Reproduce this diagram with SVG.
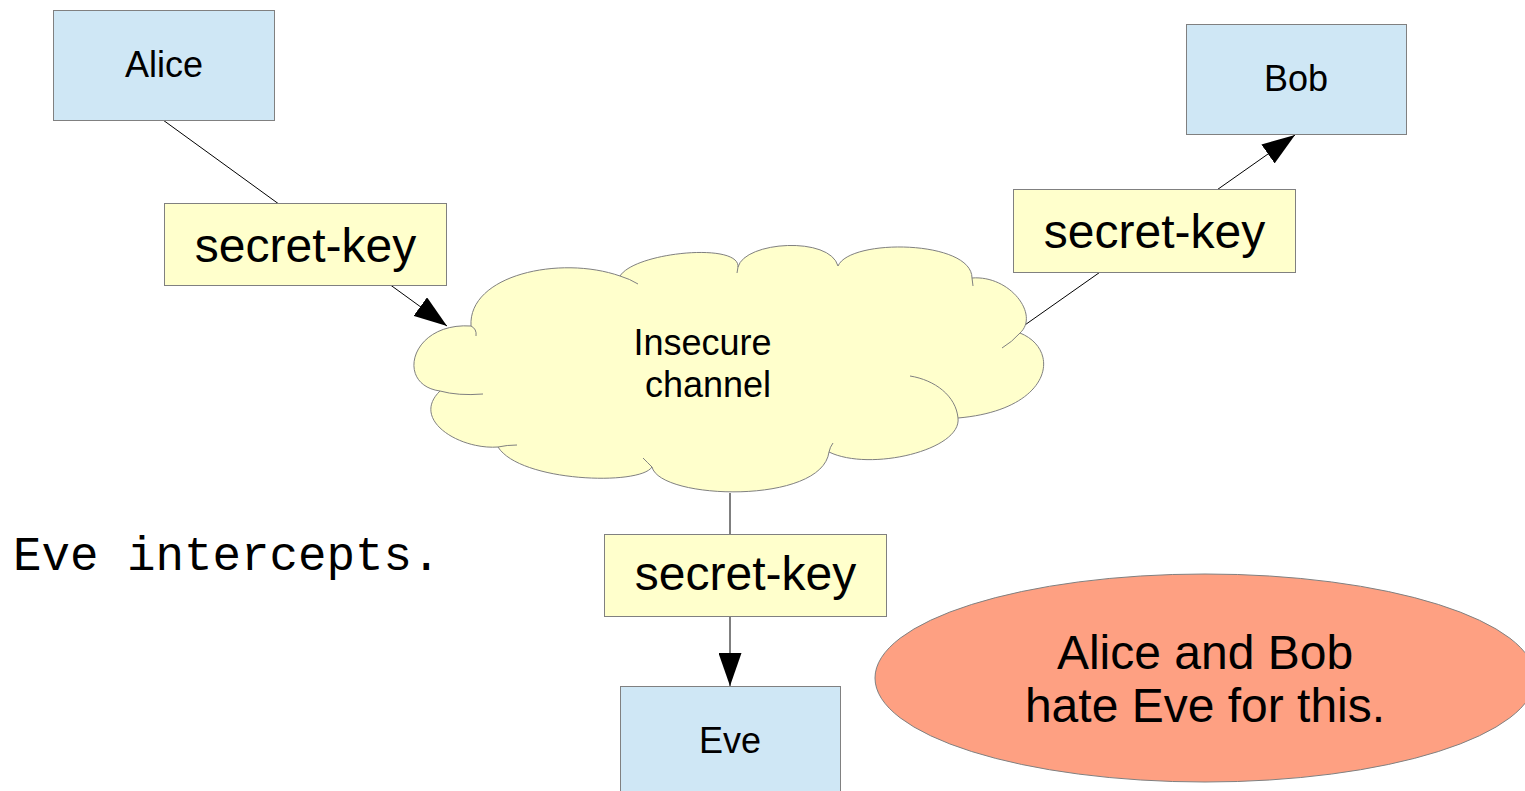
<svg xmlns="http://www.w3.org/2000/svg" width="1525" height="791" viewBox="0 0 1525 791">
<style>
.box{fill:#cfe7f5;stroke:#808080;stroke-width:1}
.key{fill:#ffffcc;stroke:#808080;stroke-width:1}
.cloud{fill:#ffffcc;stroke:#808080;stroke-width:1}
.crease{fill:none;stroke:#808080;stroke-width:1}
.edge{fill:none;stroke:#000;stroke-width:1}
.lbl{font-family:"Liberation Sans",Arial,sans-serif;font-size:36px;fill:#000;text-anchor:middle}
.klbl{font-family:"Liberation Sans",Arial,sans-serif;font-size:48px;fill:#000;text-anchor:middle}
.mono{font-family:"Courier New","Nimbus Mono PS","FreeMono","Liberation Mono",monospace;font-size:47.5px;fill:#000}
</style>
<defs>
<marker id="arr" markerUnits="userSpaceOnUse" markerWidth="33" markerHeight="23" viewBox="0 0 33 23" refX="33" refY="11.5" orient="auto">
<path d="M0,0 L33,11.5 L0,23 z" fill="#000"/>
</marker>
</defs>
<g id="connectors">
<line class="edge" x1="163" y1="120" x2="447" y2="326" marker-end="url(#arr)"/>
<line class="edge" x1="1022" y1="327" x2="1295" y2="135" marker-end="url(#arr)"/>
<line class="edge" x1="730" y1="493" x2="730" y2="686" marker-end="url(#arr)"/>
</g>
<g id="alice">
<rect class="box" x="53.5" y="10.5" width="221" height="110"/>
<text class="lbl" x="164" y="77">Alice</text>
</g>
<g id="bob">
<rect class="box" x="1186.5" y="24.5" width="220" height="110"/>
<text class="lbl" x="1296" y="91">Bob</text>
</g>
<g id="eve">
<rect class="box" x="620.5" y="686.5" width="220" height="120"/>
<text class="lbl" x="730" y="753">Eve</text>
</g>
<g id="channel">
<path class="cloud" d="M471,326 C468,275 560,255 620,276 C635,252 740,242 738,267 C745,241 830,236 838,266 C850,238 972,240 972,278 C1010,275 1040,315 1020,333 C1062,350 1052,410 958,418 C962,450 870,472 829,452 C822,505 660,500 652,467 C640,486 520,482 498,447 C460,450 410,420 440,391 C395,385 410,322 471,326 Z"/>
<path class="crease" d="M471,326 Q477,329 476,336 M620,276 Q630,279 638,284 M738,267 L737,273 M972,278 L973,286 M1020,333 Q1012,342 1002,348 M958,418 C956,396 935,380 910,376 M829,452 Q830,447 833,443 M652,467 Q647,462 643,458 M498,447 Q507,445 517,445 M440,391 Q458,396 483,394"/>
<text class="lbl" x="702.6" y="355">Insecure</text>
<text class="lbl" x="708" y="396.5">channel</text>
</g>
<g id="key-alice">
<rect class="key" x="164.5" y="203.5" width="282" height="82"/>
<text class="klbl" x="305.5" y="261.5">secret-key</text>
</g>
<g id="key-bob">
<rect class="key" x="1013.5" y="189.5" width="282" height="83"/>
<text class="klbl" x="1154.5" y="248">secret-key</text>
</g>
<g id="key-eve">
<rect class="key" x="604.5" y="534.5" width="282" height="82"/>
<text class="klbl" x="745.5" y="590">secret-key</text>
</g>
<g id="note">
<ellipse cx="1205" cy="678" rx="330" ry="104" fill="#fea082" stroke="#808080" stroke-width="1"/>
<text class="klbl" x="1205" y="669">Alice and Bob</text>
<text class="klbl" x="1205" y="722">hate Eve for this.</text>
</g>
<g id="caption">
<text class="mono" x="13" y="570">Eve intercepts.</text>
</g>
</svg>
